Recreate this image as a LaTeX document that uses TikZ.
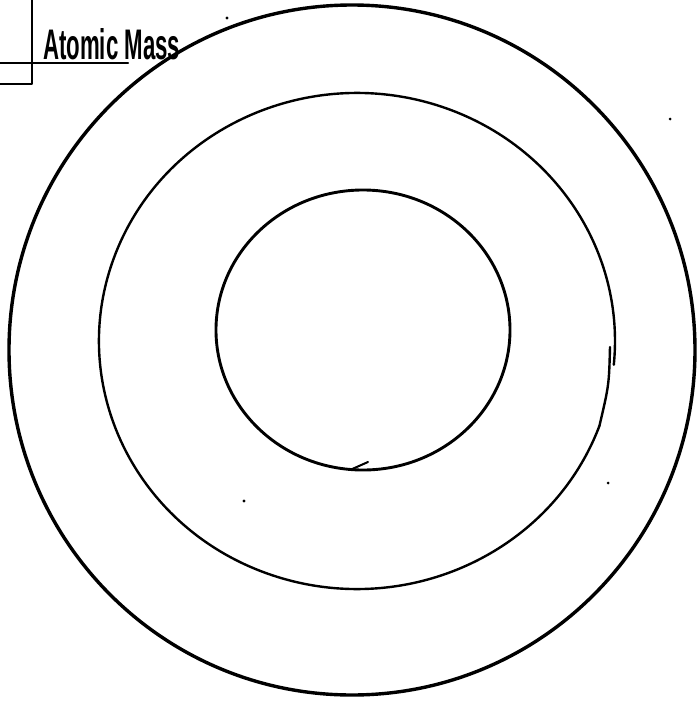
\documentclass[tikz,border=0pt]{standalone}
\usepackage{graphicx}
\usepackage{fontspec}
\setmainfont{Liberation Sans}
\begin{document}
\begin{tikzpicture}[x=1pt,y=-1pt,
  ink/.style={draw=black,line cap=round,line join=round},
  outerring/.style={ink,line width=3.4pt},
  midring/.style={ink,line width=2.4pt},
  innerring/.style={ink,line width=2.9pt},
  boxline/.style={ink,line width=2.4pt},
  speck/.style={fill=black}]
\useasboundingbox (0,0) rectangle (698,707);
% label box
\coordinate (btop) at (32,0);
\coordinate (bcorner) at (32,84);
\coordinate (bleft) at (0,84);
\coordinate (uleft) at (0,63);
\coordinate (uright) at (128,63);
\draw[boxline] (btop) -- (bcorner) -- (bleft);
\draw[boxline] (uleft) -- (uright);
\node[anchor=south west,inner sep=0pt] (label) at (43,60)
  {\resizebox{137pt}{31pt}{\bfseries Atomic Mass}};
% outer ring
\draw[outerring] (352,350) ellipse [x radius=343, y radius=345];
% middle ring (open on the right, ends overlapping)
\coordinate (mjoin) at (599.44,425.82);
\coordinate (mstart) at (610,347);
\draw[midring] (mjoin)
  arc[start angle=20, end angle=365.5, x radius=258, y radius=248];
\draw[midring] (mstart) .. controls (609,385) .. (mjoin);
% inner ring
\draw[innerring] (363,330) ellipse [x radius=147, y radius=140];
\coordinate (tickA) at (350,470);
\coordinate (tickB) at (368,462);
\draw[ink,line width=2pt] (tickA) -- (tickB);
% stray specks
\fill[speck] (227,18) circle (1.6);
\fill[speck] (670,119) circle (1.5);
\fill[speck] (608,483) circle (1.5);
\fill[speck] (244,501) circle (1.6);
\end{tikzpicture}
\end{document}
